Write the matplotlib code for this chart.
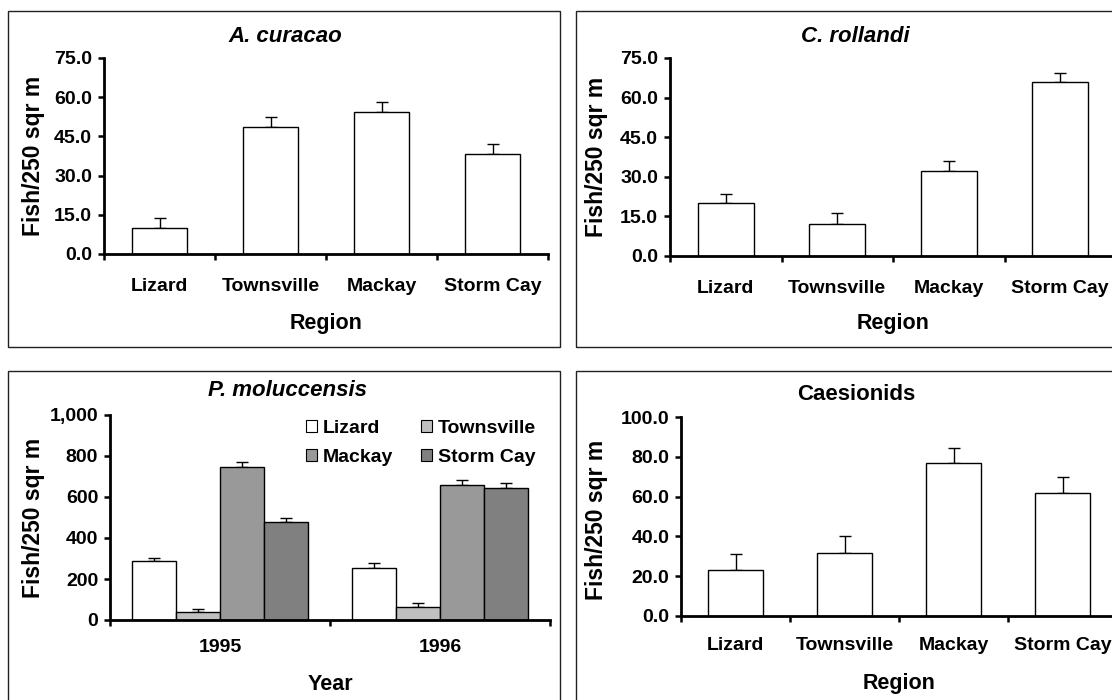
import matplotlib
matplotlib.use("Agg")
import matplotlib.pyplot as plt
from matplotlib.patches import Rectangle, Patch
from matplotlib.ticker import FuncFormatter, MultipleLocator
import numpy as np

plt.rcParams['font.family'] = ['Liberation Sans', 'DejaVu Sans']
plt.rcParams['font.weight'] = 'bold'

# ---------------- data ----------------
regions = ["Lizard", "Townsville", "Mackay", "Storm Cay"]
years = ["1995", "1996"]

curacao_mean = [9.8, 48.7, 54.4, 38.4]
curacao_se = [3.8, 3.8, 3.8, 3.8]

rollandi_mean = [19.9, 12.3, 32.2, 65.8]
rollandi_se = [3.6, 3.8, 3.6, 3.5]

# P. moluccensis, one list per region: [1995, 1996]
molu_lizard = [287, 253]
molu_townsville = [39, 62]
molu_mackay = [746, 659]
molu_stormcay = [476, 646]
molu_lizard_se = [16, 23]
molu_townsville_se = [17, 22]
molu_mackay_se = [24, 24]
molu_stormcay_se = [24, 21]

caes_mean = [23.1, 31.8, 76.8, 62.0]
caes_se = [8.0, 8.4, 7.4, 7.7]

W, H = 1112, 700
fig = plt.figure(figsize=(W / 100, H / 100), dpi=100)
fig.patch.set_facecolor('white')


def rect(l, r, top, bottom):
    return [l / W, 1 - bottom / H, (r - l) / W, (bottom - top) / H]


def ftext(x, y, s, **kw):
    fig.text(x / W, 1 - y / H, s, ha='center', va='center', **kw)


def frame(l, r, top, bottom):
    fig.patches.append(Rectangle((l / W, 1 - bottom / H), (r - l) / W, (bottom - top) / H,
                                 transform=fig.transFigure, fill=False,
                                 edgecolor='#222222', linewidth=1.0))


TICK_FS = 14
LAB_FS = 15.5
TITLE_FS = 16
YLAB_FS = 16.5


def style_axes(ax, ymax, ystep, fmt, xpad):
    for s in ['top', 'right']:
        ax.spines[s].set_visible(False)
    for s in ['left', 'bottom']:
        ax.spines[s].set_linewidth(2.0)
        ax.spines[s].set_zorder(5)
    ax.set_ylim(0, ymax)
    ax.yaxis.set_major_locator(MultipleLocator(ystep))
    ax.yaxis.set_major_formatter(FuncFormatter(fmt))
    ax.tick_params(axis='y', which='major', direction='out', length=4.5, width=1.8,
                   pad=4.0, labelsize=TICK_FS)
    ax.tick_params(axis='x', which='major', direction='out', length=4.5, width=1.8,
                   labelbottom=False)
    ax.tick_params(axis='x', which='minor', length=0, pad=xpad, labelsize=TICK_FS)
    for lab in ax.get_yticklabels() + ax.get_xticklabels(minor=True):
        lab.set_fontweight('bold')
    ax.set_facecolor('none')


def region_panel(axrect, means, ses, ymax, ystep, fmt, xpad):
    ax = fig.add_axes(axrect)
    x = np.arange(len(regions))
    ax.bar(x, means, width=0.5, color='white', edgecolor='black', linewidth=1.0, zorder=3)
    ax.errorbar(x, means, yerr=[np.zeros(len(ses)), ses], fmt='none', ecolor='black',
                elinewidth=1.0, capsize=4, capthick=1.0, zorder=2)
    ax.set_xlim(-0.5, len(regions) - 0.5)
    ax.set_xticks(np.arange(len(regions) + 1) - 0.5)
    ax.set_xticks(x, minor=True)
    ax.set_xticklabels(regions, minor=True)
    style_axes(ax, ymax, ystep, fmt, xpad)
    return ax


f1 = lambda v, p: f"{v:.1f}"

# frames
frame(8, 560, 11, 347)
frame(576, 1130, 11, 347)
frame(8, 560, 371, 712)
frame(576, 1130, 371, 712)

# ---- A. curacao ----
region_panel(rect(104, 548, 58, 254), curacao_mean, curacao_se, 75, 15, f1, 17)
ftext(285, 36, "A. curacao", fontsize=TITLE_FS, fontweight='bold', style='italic')
ftext(326, 323, "Region", fontsize=LAB_FS, fontweight='bold')
ftext(34, 156, "Fish/250 sqr m", fontsize=YLAB_FS, fontweight='bold', rotation=90)

# ---- C. rollandi ----
region_panel(rect(670, 1116, 58, 256), rollandi_mean, rollandi_se, 75, 15, f1, 17)
ftext(855, 36, "C. rollandi", fontsize=TITLE_FS, fontweight='bold', style='italic')
ftext(893, 323, "Region", fontsize=LAB_FS, fontweight='bold')
ftext(597, 157, "Fish/250 sqr m", fontsize=YLAB_FS, fontweight='bold', rotation=90)

# ---- P. moluccensis ----
ax3 = fig.add_axes(rect(110, 550, 415, 620))
series = [("Lizard", molu_lizard, molu_lizard_se, 'white'),
          ("Townsville", molu_townsville, molu_townsville_se, '#c0c0c0'),
          ("Mackay", molu_mackay, molu_mackay_se, '#999999'),
          ("Storm Cay", molu_stormcay, molu_stormcay_se, '#808080')]
xg = np.arange(len(years))
bw = 0.2
handles = {}
for i, (name, vals, se, col) in enumerate(series):
    xs = xg + (i - 1.5) * bw
    ax3.bar(xs, vals, width=bw, color=col, edgecolor='black', linewidth=1.0, zorder=3)
    ax3.errorbar(xs, vals, yerr=[np.zeros(len(se)), se], fmt='none', ecolor='black',
                 elinewidth=1.0, capsize=4, capthick=1.0, zorder=2)
    handles[name] = Patch(facecolor=col, edgecolor='black', linewidth=0.8)
ax3.set_xlim(-0.5, len(years) - 0.5)
ax3.set_xticks(np.arange(len(years) + 1) - 0.5)
ax3.set_xticks(xg, minor=True)
ax3.set_xticklabels(years, minor=True)
style_axes(ax3, 1000, 200, lambda v, p: f"{v:,.0f}", 13.5)
order = ["Lizard", "Mackay", "Townsville", "Storm Cay"]
leg = ax3.legend([handles[n] for n in order], order, ncol=2, frameon=False,
                 loc='upper left', bbox_to_anchor=(306 / W, 1 - 420 / H),
                 bbox_transform=fig.transFigure,
                 prop={'weight': 'bold', 'size': 14},
                 handlelength=0.55, handleheight=0.55, handletextpad=0.3,
                 columnspacing=1.45, labelspacing=0.6, borderpad=0, borderaxespad=0)
ftext(287, 391, "P. moluccensis", fontsize=TITLE_FS, fontweight='bold', style='italic')
ftext(330, 685, "Year", fontsize=LAB_FS, fontweight='bold')
ftext(34, 518, "Fish/250 sqr m", fontsize=YLAB_FS, fontweight='bold', rotation=90)

# ---- Caesionids ----
region_panel(rect(681, 1117, 417, 616), caes_mean, caes_se, 100, 20, f1, 15)
ftext(856, 395, "Caesionids", fontsize=TITLE_FS, fontweight='bold')
ftext(899, 684, "Region", fontsize=LAB_FS, fontweight='bold')
ftext(597, 520, "Fish/250 sqr m", fontsize=YLAB_FS, fontweight='bold', rotation=90)

fig.savefig("out.png", dpi=100, facecolor='white')
